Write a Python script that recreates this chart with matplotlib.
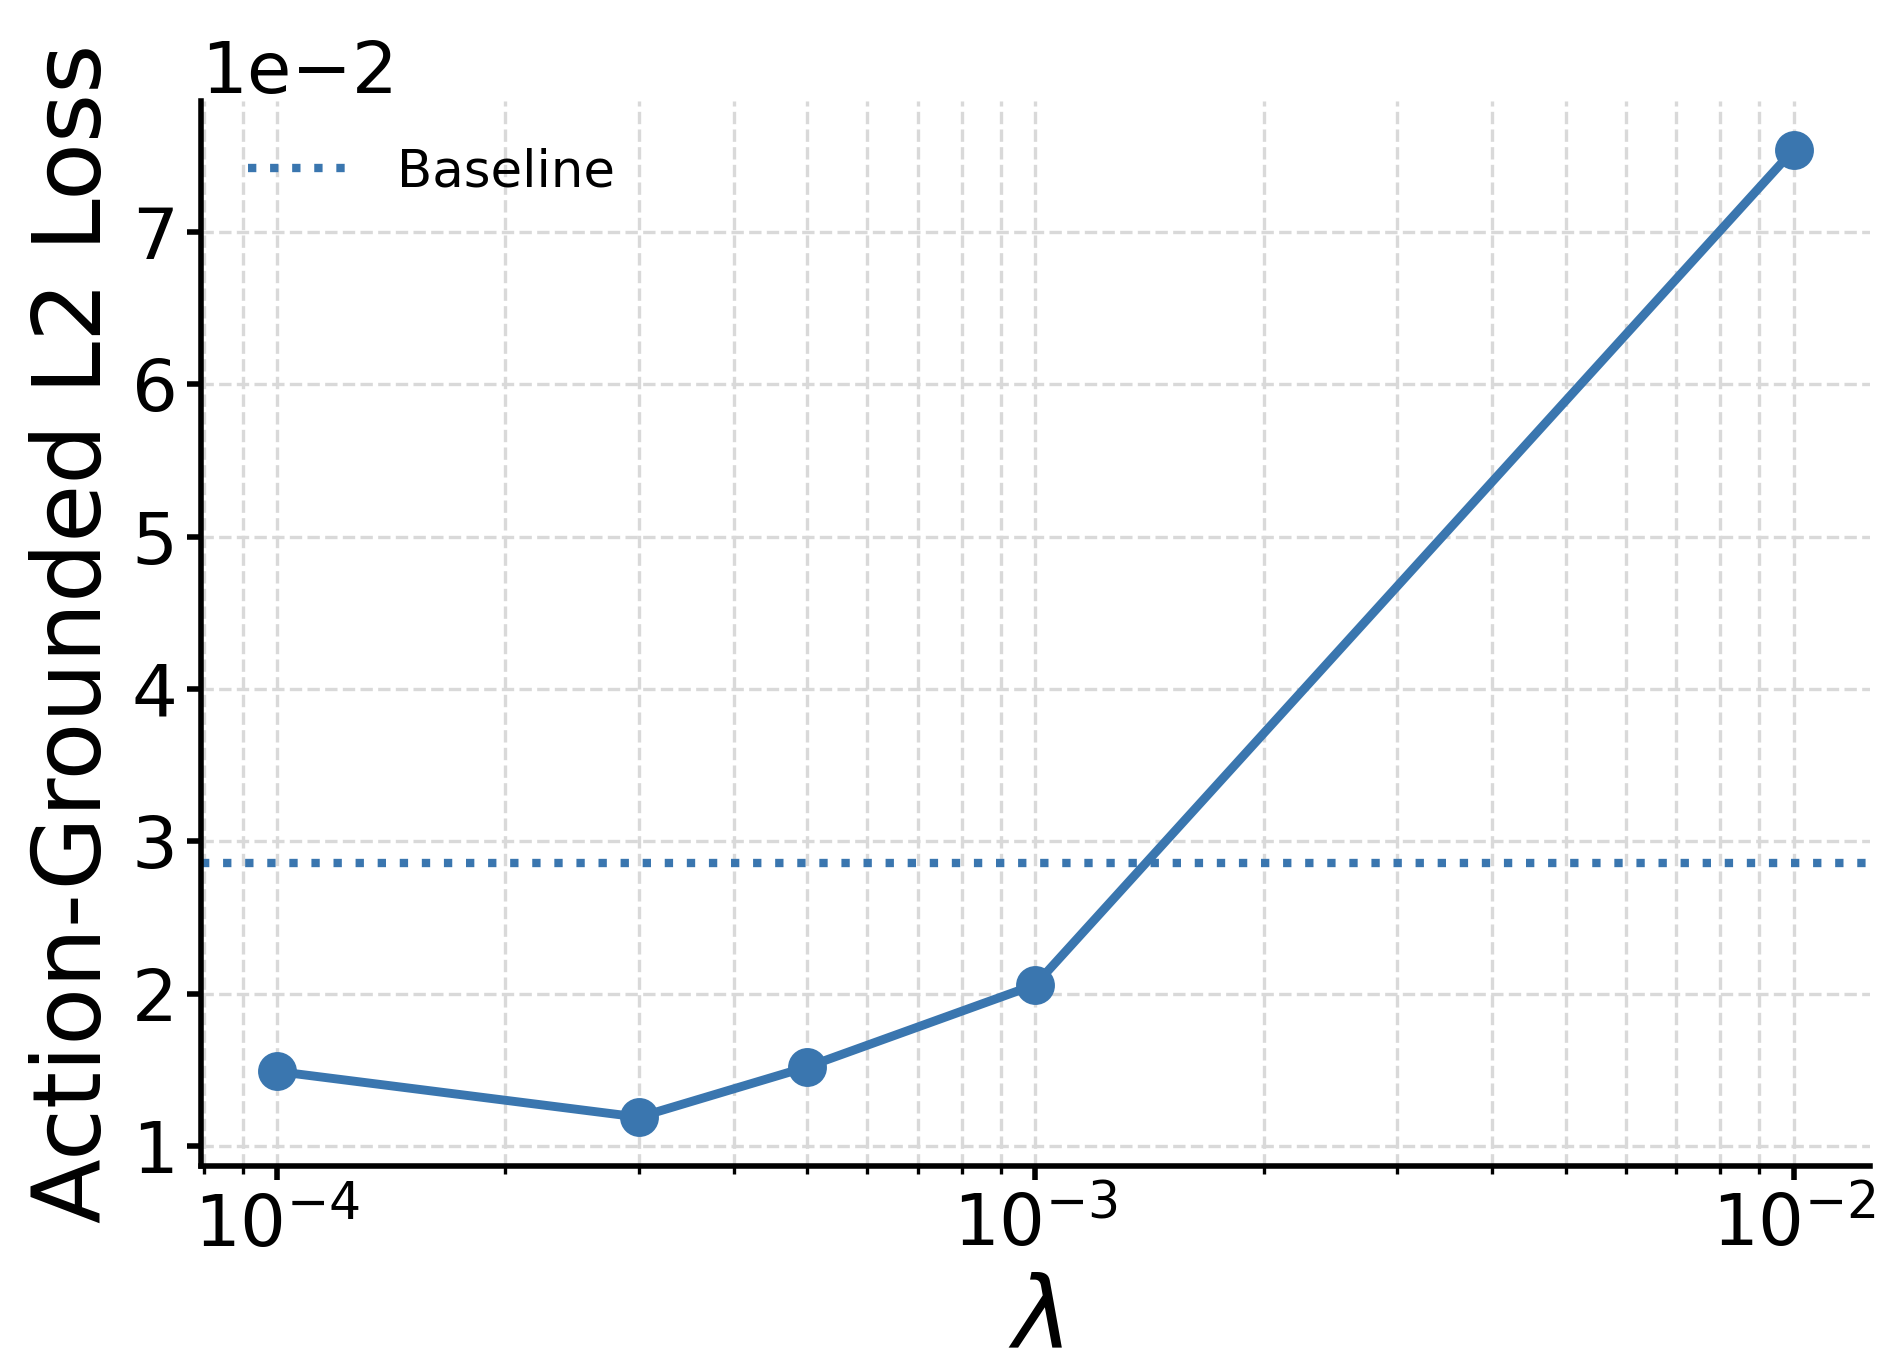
import matplotlib
matplotlib.use("Agg")
import matplotlib.pyplot as plt
import numpy as np

# lambda sweep vs action-grounded L2 loss
lambdas = [1e-4, 3e-4, 5e-4, 1e-3, 1e-2]
losses = [0.0149, 0.0119, 0.0152, 0.0206, 0.0754]
baseline = 0.0286

color = "#3a76af"

fig, ax = plt.subplots(figsize=(9.5, 6.84), dpi=200)
fig.subplots_adjust(left=0.106, right=0.984, bottom=0.148, top=0.926)

ax.plot(lambdas, losses, "-o", color=color, lw=3.2, markersize=13)
ax.axhline(baseline, color=color, lw=3, ls=":", label="Baseline")

ax.set_xscale("log")
ax.ticklabel_format(style="sci", scilimits=(0, 0), axis="y")

ax.grid(True, which="both", axis="x", ls="--", color="#d9d9d9", lw=1.2)
ax.grid(True, which="major", axis="y", ls="--", color="#d9d9d9", lw=1.2)

ax.spines["top"].set_visible(False)
ax.spines["right"].set_visible(False)
ax.spines["left"].set_linewidth(2)
ax.spines["bottom"].set_linewidth(2)
ax.tick_params(axis="both", which="major", labelsize=26, length=5, width=2)
ax.tick_params(axis="x", which="minor", length=3, width=1.2)
ax.yaxis.get_offset_text().set_fontsize(26)

ax.set_xlabel(r"$\lambda$", fontsize=36, labelpad=4)
ax.set_ylabel("Action-Grounded L2 Loss", fontsize=34)

ax.legend(loc="upper left", frameon=False, fontsize=18.5, handlelength=2.1)

fig.savefig("out.png", dpi=200)
